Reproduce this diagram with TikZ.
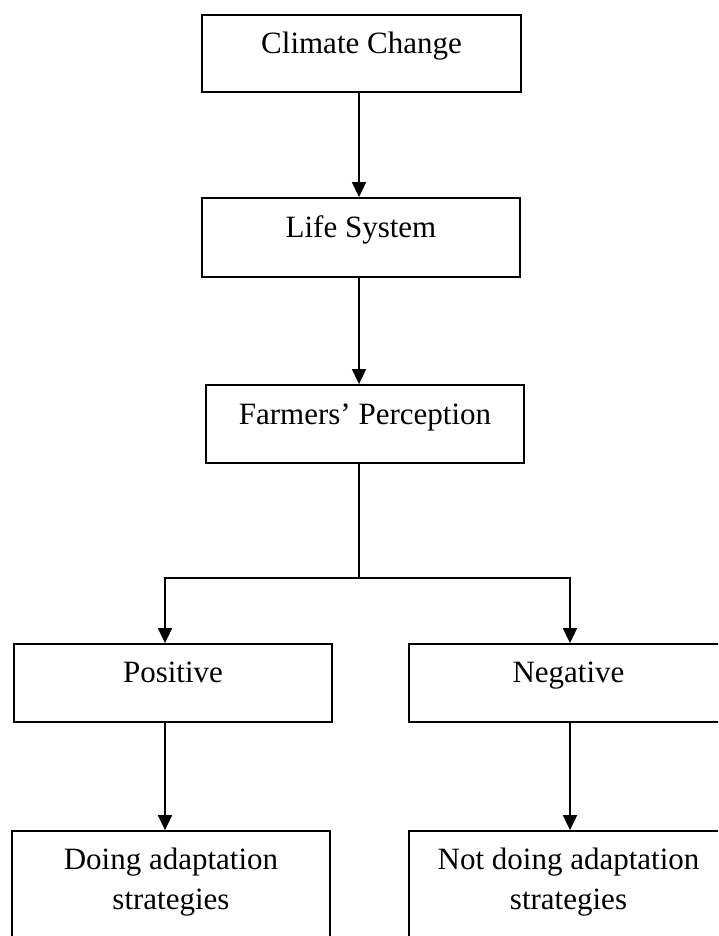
\documentclass[tikz,border=0pt]{standalone}
\usepackage{fontspec}
\setmainfont{Liberation Serif}
\usetikzlibrary{arrows.meta,calc}
\tikzset{
  boxnode/.style={draw=black, line width=1.8pt, rectangle, inner sep=0pt},
  txt/.style={anchor=base, inner sep=0pt, align=center, font=\fontsize{31}{40}\selectfont},
  conn/.style={line width=1.8pt, draw=black},
  arr/.style={conn, -{Triangle[length=15pt,width=14pt]}}
}
\begin{document}
\begin{tikzpicture}[x=1pt,y=-1pt]
\useasboundingbox (0,0) rectangle (718,936);
\clip (0,0) rectangle (718,936);
\fill[white] (0,0) rectangle (718,936);
% boxes
\node[boxnode, minimum width=319pt, minimum height=77pt] (cc) at (361.5,53.5) {};
\node[boxnode, minimum width=318pt, minimum height=79pt] (ls) at (361,237.5) {};
\node[boxnode, minimum width=318pt, minimum height=78pt] (fp) at (365,424) {};
\node[boxnode, minimum width=318pt, minimum height=78pt] (pos) at (173,683) {};
\node[boxnode, minimum width=319pt, minimum height=78pt] (neg) at (568.5,683) {};
\node[boxnode, minimum width=318pt, minimum height=120pt] (doing) at (171,891) {};
\node[boxnode, minimum width=319pt, minimum height=120pt] (notdoing) at (568.5,891) {};
% texts
\node[txt] (cct) at ([yshift=-39.5pt]cc.north) {Climate Change};
\node[txt] (lst) at ([yshift=-40pt]ls.north) {Life System};
\node[txt] (fpt) at ([yshift=-40pt]fp.north) {Farmers’ Perception};
\node[txt] (post) at ([yshift=-39pt]pos.north) {Positive};
\node[txt] (negt) at ([yshift=-39pt]neg.north) {Negative};
\node[txt] (doingt) at ([yshift=-79pt]doing.north) {Doing adaptation\\strategies};
\node[txt] (notdoingt) at ([yshift=-79pt]notdoing.north) {Not doing adaptation\\strategies};
% connectors
\coordinate (split) at (359,578);
\draw[arr] ([xshift=-2.5pt]cc.south) -- ([xshift=-2pt]ls.north);
\draw[arr] ([xshift=-2pt]ls.south) -- ([xshift=-6pt]fp.north);
\draw[conn] ([xshift=-6pt]fp.south) -- (split);
\draw[arr] (split) -| ([xshift=-8pt]pos.north);
\draw[arr] (split) -| ([xshift=1.5pt]neg.north);
\draw[arr] ([xshift=-8pt]pos.south) -- ([xshift=-6pt]doing.north);
\draw[arr] ([xshift=1.5pt]neg.south) -- ([xshift=1.5pt]notdoing.north);
\end{tikzpicture}
\end{document}
